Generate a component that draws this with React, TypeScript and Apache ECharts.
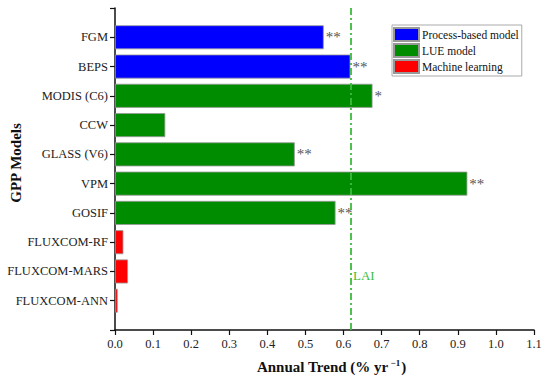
import React, { useEffect, useRef } from "react";
import * as echarts from "echarts";

// top-to-bottom as in the figure
const models = [
  "FGM",
  "BEPS",
  "MODIS (C6)",
  "CCW",
  "GLASS (V6)",
  "VPM",
  "GOSIF",
  "FLUXCOM-RF",
  "FLUXCOM-MARS",
  "FLUXCOM-ANN",
];
const trends = [0.548, 0.618, 0.676, 0.132, 0.472, 0.925, 0.579, 0.022, 0.034, 0.007];
const groups = [
  "Process-based model",
  "Process-based model",
  "LUE model",
  "LUE model",
  "LUE model",
  "LUE model",
  "LUE model",
  "Machine learning",
  "Machine learning",
  "Machine learning",
];
const significance = ["**", "**", "*", "", "**", "**", "**", "", "", ""];
const groupNames = ["Process-based model", "LUE model", "Machine learning"];
const groupColors = ["#0000FF", "#008C00", "#FF0000"];
const laiTrend = 0.617;
const xTicks = ["0.0", "0.1", "0.2", "0.3", "0.4", "0.5", "0.6", "0.7", "0.8", "0.9", "1.0", "1.1"];

const FONT = "'Liberation Serif', 'Times New Roman', serif";

export default function App() {
  const ref = useRef<HTMLDivElement>(null);
  useEffect(() => {
    if (!ref.current) return;
    const chart = echarts.init(ref.current, undefined, { renderer: "svg" });
    // bottom-to-top with empty padding slots at the ends
    const cats = ["", ...models.slice().reverse(), ""];
    const revTrends = [null, ...trends.slice().reverse(), null];
    const revGroups = [null, ...groups.slice().reverse(), null];
    const revSig = ["", ...significance.slice().reverse(), ""];

    const series: any[] = groupNames.map((g, gi) => ({
      name: g,
      type: "bar",
      stack: "all",
      barWidth: 24,
      itemStyle: { color: groupColors[gi], borderColor: "#999", borderWidth: 0.8 },
      label: {
        show: true,
        position: "right",
        distance: 2,
        color: "#555",
        fontSize: 15,
        fontFamily: FONT,
        formatter: (p: any) => revSig[p.dataIndex] || "",
      },
      data: revTrends.map((v, i) => (revGroups[i] === g ? v : "-")),
    }));
    series[0].markLine = {
      silent: true,
      symbol: "none",
      label: { show: false },
      lineStyle: { color: "#3DBB3D", width: 1.8, type: [7, 3, 2, 3] },
      data: [{ xAxis: laiTrend }],
    };
    series[0].markPoint = {
      symbol: "circle",
      symbolSize: 0,
      label: {
        show: true,
        position: "right",
        distance: 3,
        offset: [0, 4],
        formatter: "LAI",
        color: "#3DBB3D",
        fontSize: 13,
        fontFamily: FONT,
      },
      data: [{ coord: [laiTrend, "FLUXCOM-MARS"] }],
    };

    chart.setOption({
      animation: false,
      grid: { left: 115, right: 16, top: 8, bottom: 51, outerBoundsMode: "none", containLabel: false },
      legend: {
        orient: "vertical",
        left: 392,
        top: 25,
        itemWidth: 25,
        itemHeight: 13,
        itemGap: 1,
        padding: [2, 3, 2, 1],
        borderColor: "#aaa",
        borderWidth: 1,
        backgroundColor: "#fff",
        icon: "rect",
        data: groupNames,
        textStyle: { fontFamily: FONT, fontSize: 11.5, color: "#111", padding: [0, 0, 0, -2] },
      },
      xAxis: {
        type: "value",
        min: 0,
        max: 1.1,
        interval: 0.1,
        name: "{a|Annual Trend (% yr}{s| \u22121}{a|)}",
        nameLocation: "middle",
        nameGap: 28,
        nameMoveOverlap: false,
        nameTextStyle: {
          padding: [0, 0, 0, 14],
          rich: {
            a: { fontFamily: FONT, fontSize: 15, fontWeight: "bold", color: "#111" },
            s: { fontFamily: FONT, fontSize: 9, fontWeight: "bold", color: "#111", padding: [0, 1, 9, 0] },
          },
        },
        splitLine: { show: false },
        axisLine: { show: true, lineStyle: { color: "#111", width: 1.5 } },
        axisTick: { show: true, length: 5, lineStyle: { color: "#111", width: 1.2 } },
        axisLabel: {
          fontFamily: FONT,
          fontSize: 12.5,
          color: "#222",
          margin: 7,
          formatter: (v: number) => xTicks[Math.round(v * 10)] ?? "",
        },
      },
      yAxis: {
        type: "category",
        data: cats,
        boundaryGap: false,
        name: "GPP Models",
        nameLocation: "middle",
        nameGap: 92,
        nameMoveOverlap: false,
        nameRotate: 90,
        nameTextStyle: {
          fontFamily: FONT,
          fontSize: 15,
          fontWeight: "bold",
          color: "#111",
          padding: [0, 0, 0, 12],
        },
        axisLine: { show: true, lineStyle: { color: "#111", width: 1.5 } },
        axisTick: { show: true, length: 5, interval: 0, lineStyle: { color: "#111", width: 1.2 } },
        axisLabel: { fontFamily: FONT, fontSize: 12.5, color: "#222", margin: 7, interval: 0 },
        splitLine: { show: false },
      },
      series,
    });
    return () => chart.dispose();
  }, []);
  return (
    <div
      ref={ref}
      style={{ position: "fixed", left: 0, top: 0, width: 550, height: 381, background: "#fff" }}
    />
  );
}
